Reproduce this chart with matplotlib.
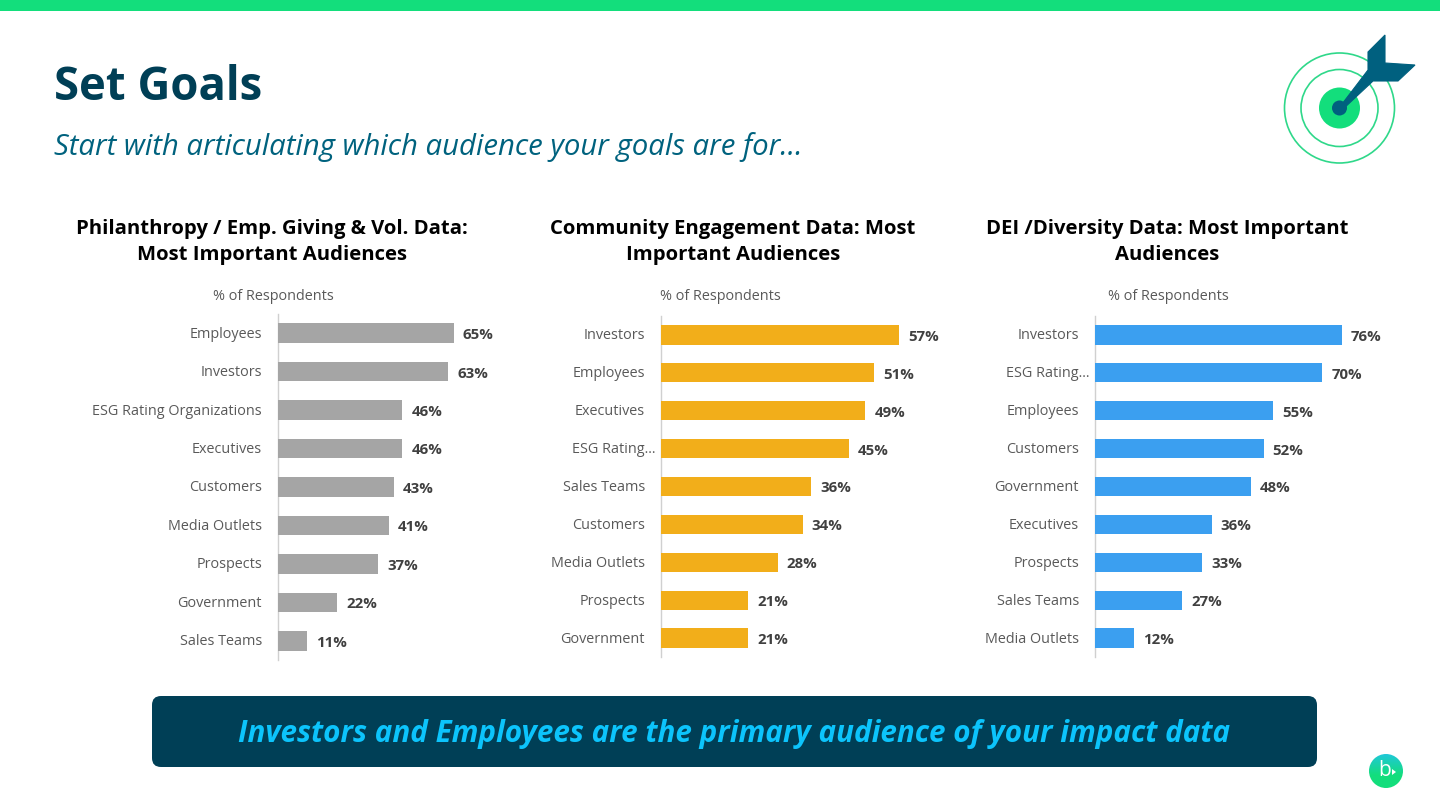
import numpy as np
import matplotlib
matplotlib.use("Agg")
import matplotlib.pyplot as plt
from matplotlib.patches import Circle, FancyBboxPatch, Polygon, Rectangle
from matplotlib.transforms import ScaledTranslation

plt.rcParams['font.family'] = ['Open Sans', 'DejaVu Sans']

W, H = 1440, 810

cats_a = ["Employees", "Investors", "ESG Rating Organizations", "Executives", "Customers",
          "Media Outlets", "Prospects", "Government", "Sales Teams"]
vals_a = [65, 63, 46, 46, 43, 41, 37, 22, 11]
cats_b = ["Investors", "Employees", "Executives", "ESG Rating...", "Sales Teams", "Customers",
          "Media Outlets", "Prospects", "Government"]
vals_b = [57, 51, 49, 45, 36, 34, 28, 21, 21]
cats_c = ["Investors", "ESG Rating...", "Employees", "Customers", "Government", "Executives",
          "Prospects", "Sales Teams", "Media Outlets"]
vals_c = [76, 70, 55, 52, 48, 36, 33, 27, 12]

title_a = "Philanthropy / Emp. Giving & Vol. Data:\nMost Important Audiences"
title_b = "Community Engagement Data: Most\nImportant Audiences"
title_c = "DEI /Diversity Data: Most Important\nAudiences"

fig = plt.figure(figsize=(14.4, 8.1), dpi=100, facecolor='white')

bg = fig.add_axes([0, 0, 1, 1], zorder=0)
bg.set_xlim(0, W); bg.set_ylim(H, 0); bg.axis('off')

GREEN = '#13de7c'; NAVY = '#003f56'; TEAL = '#00607f'
bg.add_patch(Rectangle((0, 0), W, 11, fc=GREEN, ec='none'))

bg.text(54, 88, "Set Goals", fontsize=32.8, fontweight='bold', color=NAVY, ha='left', va='center')
bg.text(54, 147, "Start with articulating which audience your goals are for\u2026", fontsize=21.2,
        style='italic', color='#00627e', ha='left', va='center')

# target icon
cx, cy = 1339.5, 108
for r in (55, 38.5):
    bg.add_patch(Circle((cx, cy), r, fc='none', ec='#2fd88a', lw=1.2))
bg.add_patch(Circle((cx, cy), 20.5, fc=GREEN, ec='none'))
bg.add_patch(Polygon([(1339, 108), (1368, 70), (1368, 52), (1385, 35), (1385, 63), (1415, 65),
                      (1398, 81), (1373, 81), (1342, 110)], fc='#00607f', ec='#00607f', lw=0.8))
bg.add_patch(Circle((cx, cy), 7.5, fc='#00607f', ec='none'))

# banner
bg.add_patch(FancyBboxPatch((152, 696), 1165, 71, boxstyle="round,pad=0,rounding_size=9",
                            fc=NAVY, ec='none'))
bg.text(734, 734, "Investors and Employees are the primary audience of your impact data", fontsize=21.3,
        fontweight='bold', style='italic', color='#0cc4fc', ha='center', va='center')

# logo
grad = np.linspace(0, 1, 64)
c1, c2 = np.array([0x20, 0xc8, 0xd8]) / 255, np.array([0x13, 0xde, 0x7c]) / 255
img = np.array([c1 + (c2 - c1) * min(g * 1.6, 1) for g in grad]).reshape(64, 1, 3)
im = bg.imshow(img, extent=(1369, 1403, 788, 754), aspect='auto', zorder=2)
im.set_clip_path(Circle((1386, 771), 17, transform=bg.transData))
bg.set_xlim(0, W); bg.set_ylim(H, 0)
bg.text(1385, 770, "b", fontsize=15, color='white', ha='center', va='center', zorder=3)
bg.add_patch(Polygon([(1392, 769), (1396, 772), (1392, 775)], fc='white', ec='none', zorder=3))


def panel(cats, vals, color, x0, top, bottom, px_per, right, title, title_cx, sub_x, sub_y):
    ax = fig.add_axes([x0 / W, 1 - bottom / H, (right - x0) / W, (bottom - top) / H], zorder=1)
    ax.patch.set_alpha(0)
    pos = np.arange(len(cats))
    ax.barh(pos, vals, height=0.51, color=color, zorder=3)
    ax.set_ylim(len(cats) - 0.5, -0.5)
    ax.set_xlim(0, (right - x0) / px_per)
    ax.set_yticks(pos, cats, fontsize=10.4, color='#595959')
    ax.tick_params(axis='y', length=0, pad=11.2)
    for lab, cat in zip(ax.get_yticklabels(), cats):
        dx = 11 / 100 if cat.endswith("...") else 0
        lab.set_transform(lab.get_transform() + ScaledTranslation(dx, 1 / 100, fig.dpi_scale_trans))
    ax.set_xticks([])
    for s in ('top', 'right', 'bottom'):
        ax.spines[s].set_visible(False)
    ax.spines['left'].set_color('#d0d0d0')
    ax.spines['left'].set_linewidth(1)
    ax.spines['left'].set_zorder(1)
    for p, v in zip(pos, vals):
        ax.annotate(f"{v}%", (v, p), xytext=(6.6, -1.4), textcoords='offset points', fontsize=10.8,
                    fontweight='bold', color='#404040', ha='left', va='center')
    bg.text(title_cx, 242, title, fontsize=14.6, fontweight='bold', color='black', ha='center',
            va='center', linespacing=1.34)
    bg.text(sub_x, sub_y, "% of Respondents", fontsize=10.4, color='#595959', ha='left', va='center')


panel(cats_a, vals_a, '#a5a5a5', 277.5, 314, 660, 2.71, 520, title_a, 272, 213, 297)
panel(cats_b, vals_b, '#f2ae1a', 660.5, 316, 657, 4.18, 960, title_b, 733, 660, 297)
panel(cats_c, vals_c, '#3b9ff0', 1094.5, 316, 657, 3.25, 1400, title_c, 1167, 1108, 297)

fig.savefig("out.png", dpi=100)
